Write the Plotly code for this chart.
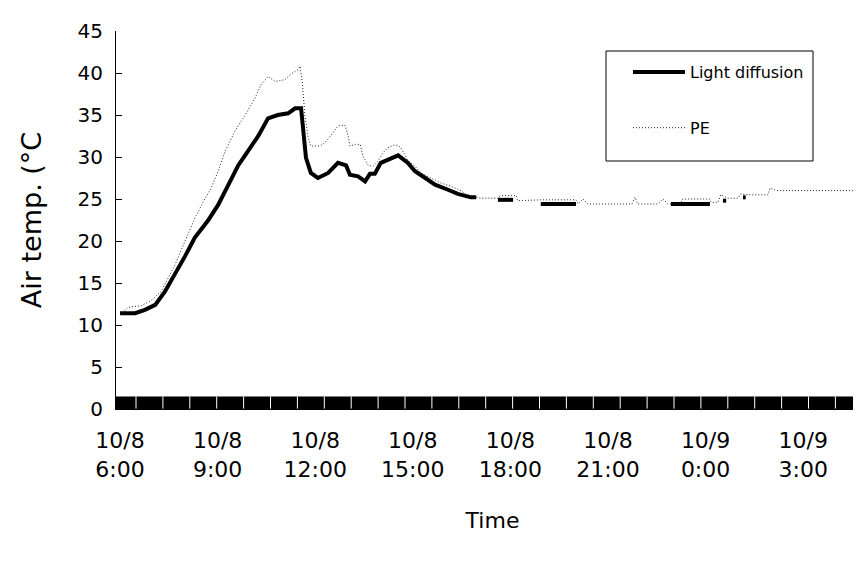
import plotly.graph_objects as go

# ---------------- data ----------------
ld_time = [
    "2008-10-08 06:00", "2008-10-08 06:28", "2008-10-08 06:46", "2008-10-08 07:05",
    "2008-10-08 07:23", "2008-10-08 07:41", "2008-10-08 08:00", "2008-10-08 08:18",
    "2008-10-08 08:42", "2008-10-08 09:01", "2008-10-08 09:19", "2008-10-08 09:38",
    "2008-10-08 09:56", "2008-10-08 10:15", "2008-10-08 10:33", "2008-10-08 10:51",
    "2008-10-08 11:10", "2008-10-08 11:23", "2008-10-08 11:34", "2008-10-08 11:38",
    "2008-10-08 11:43", "2008-10-08 11:52", "2008-10-08 12:05", "2008-10-08 12:24",
    "2008-10-08 12:42", "2008-10-08 12:57", "2008-10-08 13:04", "2008-10-08 13:19",
    "2008-10-08 13:32", "2008-10-08 13:41", "2008-10-08 13:50", "2008-10-08 14:01",
    "2008-10-08 14:20", "2008-10-08 14:33", "2008-10-08 14:51", "2008-10-08 15:04",
    "2008-10-08 15:23", "2008-10-08 15:41", "2008-10-08 16:05", "2008-10-08 16:23",
    "2008-10-08 16:47", "2008-10-08 16:57", "2008-10-08 17:15",
    "2008-10-08 17:37", "2008-10-08 18:05", "2008-10-08 18:30",
    "2008-10-08 18:56", "2008-10-08 20:01", "2008-10-08 21:30",
    "2008-10-08 22:56", "2008-10-09 00:08", "2008-10-09 00:20",
    "2008-10-09 00:32", "2008-10-09 00:38", "2008-10-09 00:55",
    "2008-10-09 01:09", "2008-10-09 01:14", "2008-10-09 03:00",
    "2008-10-09 04:50", "2008-10-09 04:56",
]
ld_temp = [
    11.4, 11.4, 11.8, 12.4,
    14.0, 16.0, 18.2, 20.4,
    22.4, 24.3, 26.7, 29.0,
    30.7, 32.5, 34.6, 35.0,
    35.2, 35.8, 35.8, 32.6,
    29.9, 28.1, 27.5, 28.1,
    29.3, 29.0, 27.9, 27.7,
    27.1, 28.0, 28.0, 29.3,
    29.9, 30.2, 29.3, 28.3,
    27.5, 26.7, 26.1, 25.6,
    25.2, 25.2, None,
    24.9, 24.9, None,
    24.4, 24.4, None,
    24.4, 24.4, None,
    24.8, 24.8, None,
    25.2, 25.2, None,
    25.6, 25.6,
]

pe_time = [
    "2008-10-08 06:00", "2008-10-08 06:15", "2008-10-08 06:39", "2008-10-08 06:57",
    "2008-10-08 07:16", "2008-10-08 07:29", "2008-10-08 07:41", "2008-10-08 08:00",
    "2008-10-08 08:18", "2008-10-08 08:37", "2008-10-08 08:48", "2008-10-08 09:01",
    "2008-10-08 09:14", "2008-10-08 09:32", "2008-10-08 09:51", "2008-10-08 10:09",
    "2008-10-08 10:20", "2008-10-08 10:33", "2008-10-08 10:46", "2008-10-08 11:04",
    "2008-10-08 11:16", "2008-10-08 11:28", "2008-10-08 11:32", "2008-10-08 11:36",
    "2008-10-08 11:41", "2008-10-08 11:47", "2008-10-08 11:52", "2008-10-08 12:09",
    "2008-10-08 12:18", "2008-10-08 12:29", "2008-10-08 12:42", "2008-10-08 12:55",
    "2008-10-08 13:01", "2008-10-08 13:04", "2008-10-08 13:14", "2008-10-08 13:23",
    "2008-10-08 13:28", "2008-10-08 13:38", "2008-10-08 13:47", "2008-10-08 13:56",
    "2008-10-08 14:05", "2008-10-08 14:14", "2008-10-08 14:24", "2008-10-08 14:33",
    "2008-10-08 14:38", "2008-10-08 14:51", "2008-10-08 15:04", "2008-10-08 15:15",
    "2008-10-08 15:34", "2008-10-08 15:52", "2008-10-08 16:11", "2008-10-08 16:29",
    "2008-10-08 16:37", "2008-10-08 17:04", "2008-10-08 17:38", "2008-10-08 17:41",
    "2008-10-08 18:11", "2008-10-08 18:13", "2008-10-08 18:57", "2008-10-08 20:01",
    "2008-10-08 20:05", "2008-10-08 20:14", "2008-10-08 20:23", "2008-10-08 21:44",
    "2008-10-08 21:50", "2008-10-08 21:55", "2008-10-08 22:32", "2008-10-08 22:41",
    "2008-10-08 22:51", "2008-10-08 23:13", "2008-10-08 23:18", "2008-10-09 00:08",
    "2008-10-09 00:10", "2008-10-09 00:23", "2008-10-09 00:28", "2008-10-09 00:41",
    "2008-10-09 01:00", "2008-10-09 01:05", "2008-10-09 01:22", "2008-10-09 01:55",
    "2008-10-09 01:59", "2008-10-09 02:10", "2008-10-09 04:54",
]
pe_temp = [
    11.2, 12.1, 12.3, 12.9,
    14.0, 15.6, 17.1, 20.0,
    22.7, 25.1, 26.3, 28.3,
    30.7, 33.1, 35.0, 37.0,
    38.6, 39.6, 39.0, 39.2,
    39.9, 40.4, 40.8, 39.0,
    35.0, 32.3, 31.3, 31.3,
    31.7, 32.6, 33.7, 33.8,
    32.5, 31.3, 31.5, 31.5,
    30.1, 29.0, 28.9, 29.5,
    30.5, 31.1, 31.4, 31.4,
    31.1, 29.6, 28.9, 28.1,
    27.5, 26.9, 26.5, 26.0,
    25.6, 25.1, 25.1, 25.4,
    25.4, 24.8, 24.9, 24.9,
    24.4, 25.0, 24.4, 24.4,
    25.2, 24.4, 24.4, 25.0,
    24.4, 24.4, 25.0, 25.0,
    24.6, 24.6, 25.5, 25.1,
    25.1, 25.6, 25.5, 25.5,
    26.3, 26.0, 26.0,
]

tick_vals = [
    "2008-10-08 06:00", "2008-10-08 09:00", "2008-10-08 12:00", "2008-10-08 15:00",
    "2008-10-08 18:00", "2008-10-08 21:00", "2008-10-09 00:00", "2008-10-09 03:00",
]
tick_text = [
    "10/8<br>6:00", "10/8<br>9:00", "10/8<br>12:00", "10/8<br>15:00",
    "10/8<br>18:00", "10/8<br>21:00", "10/9<br>0:00", "10/9<br>3:00",
]
y_ticks = [0, 5, 10, 15, 20, 25, 30, 35, 40, 45]

x_range = ["2008-10-08 05:52:37", "2008-10-09 05:01:24"]

FONT = "DejaVu Sans"
PW, PH, PL, PT = 753, 378, 108, 23   # plot area in pixels


def px(xp):
    return (xp - PL) / PW


def py(yp):
    return (PT + PH - yp) / PH


fig = go.Figure()
fig.add_trace(go.Scatter(
    x=ld_time, y=ld_temp, mode="lines", name="Light diffusion",
    legendgroup="a", connectgaps=False,
    line=dict(color="black", width=4),
))
fig.add_trace(go.Scatter(
    x=pe_time, y=pe_temp, mode="lines", name="PE",
    legendgroup="b",
    line=dict(color="#222222", width=1, dash="1px,2px"),
))

# decorative x-axis band (dense tick marks) with white gaps
shapes = [dict(type="rect", xref="paper", yref="y", x0=0, x1=1, y0=0, y1=1.5,
               fillcolor="black", line=dict(width=0), layer="above")]
gap_x0 = 20 / PW
gap_step = 26.9 / PW
k = 0
while gap_x0 + k * gap_step < 1:
    xp = gap_x0 + k * gap_step
    shapes.append(dict(type="line", xref="paper", yref="y", x0=xp, x1=xp,
                       y0=0.05, y1=1.5, line=dict(color="white", width=1),
                       layer="above"))
    k += 1

# legend frame
shapes.append(dict(type="rect", xref="paper", yref="paper",
                   x0=px(598), x1=px(805), y0=py(153), y1=py(43),
                   line=dict(color="black", width=1), fillcolor="white",
                   layer="below"))

fig.update_layout(
    width=861, height=562,
    margin=dict(l=PL, r=0, t=PT, b=562 - PT - PH),
    plot_bgcolor="white", paper_bgcolor="white",
    font=dict(family=FONT, color="black"),
    shapes=shapes,
    legend=dict(
        x=px(620), y=py(47), xanchor="left", yanchor="top",
        bgcolor="rgba(0,0,0,0)", borderwidth=0,
        font=dict(size=16, family=FONT), traceorder="grouped",
        tracegroupgap=32, itemwidth=52,
    ),
    xaxis=dict(
        type="date", range=x_range, tickmode="array",
        tickvals=tick_vals, ticktext=tick_text, ticks="",
        showline=True, linecolor="black", linewidth=1,
        showgrid=False, zeroline=False,
        tickfont=dict(size=22, family=FONT), ticklabelstandoff=12,
        title=dict(text="Time", font=dict(size=22, family=FONT), standoff=31),
    ),
    yaxis=dict(
        range=[0, 45], tickmode="array", tickvals=y_ticks,
        ticks="inside", ticklen=6, tickcolor="black",
        showline=True, linecolor="black", linewidth=1,
        showgrid=False, zeroline=False,
        tickfont=dict(size=20, family=FONT), ticklabelstandoff=8,
        title=dict(text="Air temp. (°C", font=dict(size=27, family=FONT), standoff=28),
    ),
)

fig.write_html("out.html")
